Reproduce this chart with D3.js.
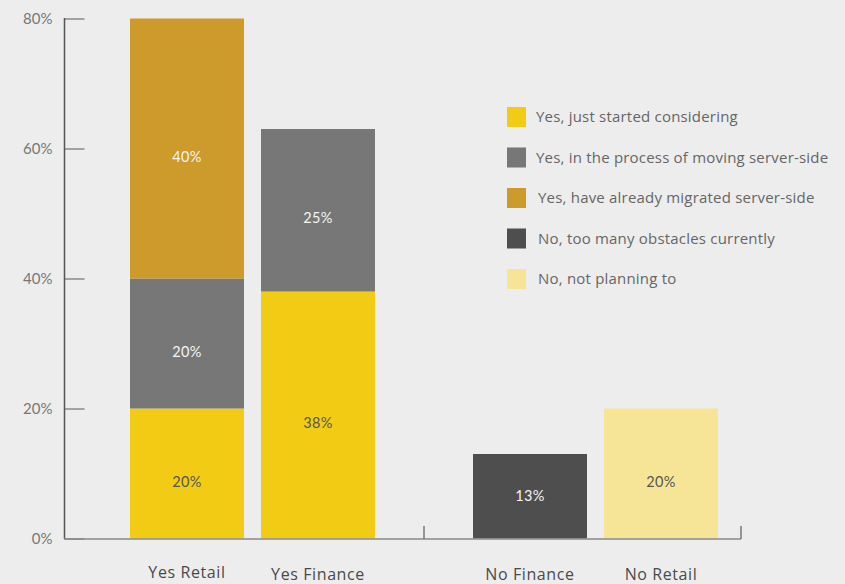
<!DOCTYPE html>
<html>
<head>
<meta charset="utf-8">
<script src="https://cdn.jsdelivr.net/npm/d3@7/dist/d3.min.js"></script>
<style>
  html, body { margin: 0; padding: 0; background: #ededed; }
  svg { display: block; font-family: "Open Sans", Lato, sans-serif; }
</style>
</head>
<body>
<svg id="chart" width="845" height="584"></svg>
<script>
// Survey answers, grouped into "Yes" and "No" responses
const groups = ["Yes", "No"];
const categories = ["Yes Retail", "Yes Finance", "No Finance", "No Retail"];
const categoryGroup = ["Yes", "Yes", "No", "No"];
const seriesNames = [
  "Yes, just started considering",
  "Yes, in the process of moving server-side",
  "Yes, have already migrated server-side",
  "No, too many obstacles currently",
  "No, not planning to"
];
const seriesColors = ["#f2cc14", "#777777", "#cd9a2c", "#4e4e4e", "#f7e597"];
const labelColors = ["#555555", "#f4f4f4", "#f4f4f4", "#f4f4f4", "#555555"];
// values per series, one per category (0 = not present)
const justStarted   = [20, 38, 0, 0];
const inProcess     = [20, 25, 0, 0];
const migrated      = [40, 0, 0, 0];
const tooMany       = [0, 0, 13, 0];
const notPlanning   = [0, 0, 0, 20];
const yTicks = [0, 20, 40, 60, 80];

const svg = d3.select("#chart");
const seriesValues = [justStarted, inProcess, migrated, tooMany, notPlanning];

const rows = categories.map((c, i) => {
  const r = { category: c, group: categoryGroup[i] };
  seriesNames.forEach((s, k) => r[s] = seriesValues[k][i]);
  return r;
});
const stacked = d3.stack().keys(seriesNames)(rows);

const y = d3.scaleLinear().domain([0, 80]).range([538.5, 18.5]);
const outer = d3.scaleBand().domain(groups).range([81, 767]);
const inner = d3.scaleBand().domain([0, 1]).range([0, outer.bandwidth()])
  .paddingInner(0.13).paddingOuter(0.374);

const idxInGroup = categories.map((c, i) =>
  categories.filter((d, j) => j < i && categoryGroup[j] === categoryGroup[i]).length);
const xPos = i => outer(categoryGroup[i]) + inner(idxInGroup[i]);

// Bars
stacked.forEach((layer, k) => {
  const segs = layer.map((d, i) => ({ d, i })).filter(o => o.d[1] - o.d[0] > 0);
  svg.append("g")
    .selectAll("rect")
    .data(segs)
    .join("rect")
    .attr("x", o => xPos(o.i))
    .attr("width", inner.bandwidth())
    .attr("y", o => y(o.d[1]))
    .attr("height", o => y(o.d[0]) - y(o.d[1]))
    .attr("fill", seriesColors[k]);

  svg.append("g")
    .selectAll("text")
    .data(segs)
    .join("text")
    .attr("x", o => xPos(o.i) + inner.bandwidth() / 2)
    .attr("y", o => Math.min((y(o.d[0]) + y(o.d[1])) / 2 + 13, y(o.d[0]) - 38))
    .attr("text-anchor", "middle")
    .attr("font-size", 14.5)
    .attr("letter-spacing", 0.3)
    .attr("font-family", "Lato, sans-serif")
    .attr("fill", labelColors[k])
    .text(o => Math.round(o.d[1] - o.d[0]) + "%");
});

// Y axis
const yAxis = svg.append("g").attr("transform", "translate(64.5,0)")
  .call(d3.axisRight(y).tickValues(yTicks).tickSize(20).tickFormat(d => d + "%"));
yAxis.select(".domain").remove();
yAxis.selectAll(".tick line").attr("stroke", "#888").attr("stroke-width", 1.5);
yAxis.selectAll(".tick text")
  .attr("x", -12).attr("text-anchor", "end")
  .attr("font-size", 15).attr("fill", "#777")
  .attr("font-family", "Lato, sans-serif");
svg.append("line")
  .attr("x1", 64.5).attr("x2", 64.5).attr("y1", 18).attr("y2", 539)
  .attr("stroke", "#555").attr("stroke-width", 1.5);

// Baseline with group dividers
svg.append("line")
  .attr("x1", 64).attr("x2", 741).attr("y1", 539).attr("y2", 539)
  .attr("stroke", "#888").attr("stroke-width", 1.5);
[outer("No"), 741].forEach(xv => {
  svg.append("line")
    .attr("x1", xv).attr("x2", xv).attr("y1", 526).attr("y2", 539)
    .attr("stroke", "#777").attr("stroke-width", 1.5);
});

// Category labels
svg.append("g")
  .selectAll("text")
  .data(categories)
  .join("text")
  .attr("x", (c, i) => xPos(i) + inner.bandwidth() / 2)
  .attr("y", (c, i) => i === 0 ? 578 : 580)
  .attr("text-anchor", "middle")
  .attr("font-size", 16)
  .attr("letter-spacing", 0.6)
  .attr("fill", "#4a4a4a")
  .text(c => c);

// Legend
const legend = svg.append("g").attr("transform", "translate(507,107)");
const item = legend.selectAll("g")
  .data(seriesNames)
  .join("g")
  .attr("transform", (d, i) => `translate(0,${i * 40.5})`);
item.append("rect")
  .attr("width", 19).attr("height", 20)
  .attr("fill", (d, i) => seriesColors[i]);
item.append("text")
  .attr("x", (d, i) => i < 2 ? 29 : 31)
  .attr("y", 15)
  .attr("font-size", 15)
  .attr("letter-spacing", 0.2)
  .attr("fill", "#666")
  .text(d => d);
</script>
</body>
</html>
